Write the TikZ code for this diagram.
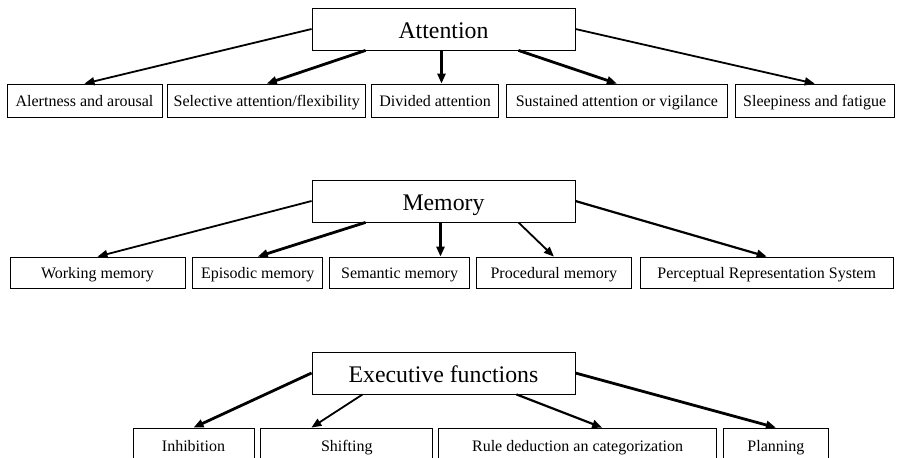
\documentclass[tikz,border=0pt]{standalone}
\usepackage{fontspec}
\setmainfont{Liberation Serif}
\usetikzlibrary{arrows.meta,positioning,calc}
\tikzset{
  head/.style={draw,line width=0.8pt,minimum width=263pt,minimum height=42pt,inner sep=0pt,
    text height=22pt,text depth=4pt,font=\fontsize{23.8}{28}\selectfont},
  leaf/.style={draw,line width=0.8pt,minimum height=33pt,inner sep=0pt,
    text height=12pt,text depth=0pt,font=\fontsize{16}{19}\selectfont},
  link/.style={-{Triangle[length=10pt,width=8pt]},line width=1.8pt},
  boldlink/.style={link,line width=2.8pt}
}
\begin{document}
\begin{tikzpicture}[x=1pt,y=-1pt]
  \useasboundingbox (0,0) rectangle (898,458);
  % attention
  \node[head] (att) at (443.5,29) {Attention};
  \node[leaf,minimum width=155pt] (alert) at (84.5,100.5) {Alertness and arousal};
  \node[leaf,minimum width=198pt,right=5pt of alert] (sel) {Selective attention/flexibility};
  \node[leaf,minimum width=127pt,right=5pt of sel] (div) {Divided attention};
  \node[leaf,minimum width=221pt,right=7pt of div] (sus) {Sustained attention or vigilance};
  \node[leaf,minimum width=159pt,right=7pt of sus] (sleep) {Sleepiness and fatigue};
  \draw[link] (att.west) -- (alert.north);
  \draw[boldlink] ($(att.south west)+(54,0)$) -- (sel.north);
  \draw[boldlink] ($(att.south)+(-2,0)$) -- ($(att.south |- div.north)+(-2,0)$);
  \draw[boldlink] ($(att.south east)+(-57,0)$) -- (sus.north);
  \draw[link] (att.east) -- (sleep.north);
  % memory
  \node[head] (mem) at (443.5,201) {Memory};
  \node[leaf,minimum width=175pt,minimum height=31pt] (work) at (97.5,272.5) {Working memory};
  \node[leaf,minimum width=130pt,minimum height=31pt,right=7pt of work] (epi) {Episodic memory};
  \node[leaf,minimum width=140pt,minimum height=31pt,right=6pt of epi] (sem) {Semantic memory};
  \node[leaf,minimum width=155pt,minimum height=31pt,right=6pt of sem] (proc) {Procedural memory};
  \node[leaf,minimum width=253pt,minimum height=31pt,right=8pt of proc] (perc) {Perceptual Representation System};
  \draw[link] (mem.west) -- (work.north);
  \draw[boldlink] ($(mem.south west)+(54,0)$) -- (epi.north);
  \draw[boldlink] ($(mem.south)+(-3,0)$) -- ($(mem.south |- sem.north)+(-3,0)$);
  \draw[link] ($(mem.south east)+(-57,0)$) -- (proc.north);
  \draw[link,line width=2.2pt] (mem.east) -- (perc.north);
  % executive functions
  \node[head] (exe) at (443.5,373) {Executive functions};
  \node[leaf,minimum width=121pt,minimum height=34pt] (inh) at (193.5,445) {Inhibition};
  \node[leaf,minimum width=172pt,minimum height=34pt,right=6pt of inh] (shift) {Shifting};
  \node[leaf,minimum width=278pt,minimum height=34pt,right=5pt of shift] (rule) {Rule deduction an categorization};
  \node[leaf,minimum width=105pt,minimum height=34pt,right=6pt of rule] (plan) {Planning};
  \draw[boldlink] (exe.west) -- (inh.north);
  \draw[link] ($(exe.south west)+(51,0)$) -- ($(shift.north west)+(51,0)$);
  \draw[link,line width=2.2pt] ($(exe.south east)+(-59,0)$) -- ($(rule.north west)+(164,0)$);
  \draw[boldlink] (exe.east) -- (plan.north);
\end{tikzpicture}
\end{document}
